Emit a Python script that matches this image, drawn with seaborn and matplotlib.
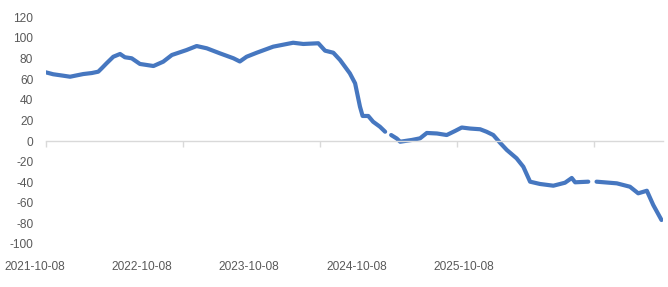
import pandas as pd
import numpy as np
import matplotlib
matplotlib.use("Agg")
import matplotlib.pyplot as plt
import matplotlib.transforms as mtransforms
from matplotlib import font_manager
import seaborn as sns

# ---------------- data ----------------
dates = [
    "2021-10-08", "2021-10-28", "2021-11-20", "2021-12-12", "2021-12-28",
    "2022-01-16", "2022-02-08", "2022-02-25", "2022-03-07", "2022-03-19",
    "2022-04-06", "2022-04-24", "2022-05-07", "2022-05-25", "2022-06-16",
    "2022-07-22", "2022-08-17", "2022-09-09", "2022-10-18", "2022-11-14",
    "2022-12-11", "2023-01-15", "2023-02-20", "2023-03-09", "2023-03-27",
    "2023-04-23", "2023-06-06", "2023-07-29", "2023-08-25", "2023-10-04",
    "2023-10-22", "2023-11-13", "2023-12-01", "2023-12-27", "2024-01-10",
    "2024-01-23", "2024-01-30", "2024-02-14", "2024-02-27", "2024-03-16",
    "2024-03-30", "2024-04-07", "2024-04-15", "2024-04-30", "2024-05-09",
    "2024-06-09", "2024-07-01", "2024-07-19", "2024-08-15", "2024-09-10",
    "2024-10-02", "2024-10-20", "2024-11-11", "2024-12-08", "2024-12-25",
    "2025-01-12", "2025-01-30", "2025-02-17", "2025-03-15", "2025-04-02",
    "2025-04-20", "2025-05-16", "2025-06-21", "2025-07-22", "2025-08-09",
    "2025-08-18", "2025-09-22", "2025-10-02", "2025-10-14", "2025-12-07",
    "2026-01-11", "2026-02-02", "2026-02-25", "2026-03-14", "2026-04-05",
]
values = [
    66.7, 64.8, 63.6, 62.4, 63.6,
    65.0, 66.0, 67.3, 70.9, 75.4,
    81.8, 84.5, 81.3, 80.3, 74.8,
    72.8, 77.0, 83.5, 88.3, 92.2,
    90.0, 85.1, 80.3, 77.2, 81.8,
    85.7, 91.6, 95.4, 94.2, 94.9,
    87.7, 85.7, 78.6, 65.7, 56.0,
    33.3, 24.3, 24.3, 18.7, 13.9,
    9.0, np.nan, 5.8, 2.4, -0.7,
    1.0, 2.6, 7.8, 7.3, 5.8,
    9.7, 13.1, 12.1, 11.4, 9.0,
    5.8, -1.7, -8.7, -16.8, -25.0,
    -39.5, -41.7, -43.4, -40.5, -35.9,
    -40.1, -39.5, np.nan, -39.5, -41.1,
    -44.4, -50.8, -48.3, -62.1, -76.7,
]
y_ticks = [120, 100, 80, 60, 40, 20, 0, -20, -40, -60, -80, -100]
x_tick_dates = ["2021-10-08", "2022-10-08", "2023-10-08", "2024-10-08", "2025-10-08"]
x_tick_labels = ["2021-10-08", "2022-10-08", "2023-10-08", "2024-10-08", "2025-10-08"]

# ---------------- layout ----------------
label_offsets_days = [-28, 256, 541, 829, 1114]   # where the reference places its date labels
x_end = "2026-04-09"
LINE_COLOR = "#4677C0"
TEXT_COLOR = "#595959"
AXIS_COLOR = "#d9d9d9"

df = pd.DataFrame({"date": pd.to_datetime(dates), "value": values})
df["seg"] = df["value"].isna().cumsum()
df = df.dropna()

sns.set_theme(style="white")
avail = {f.name for f in font_manager.fontManager.ttflist}
if "Liberation Sans Narrow" in avail:
    fam, fs = ["Liberation Sans Narrow", "DejaVu Sans"], 10.5
else:
    fam, fs = ["Liberation Sans", "DejaVu Sans"], 8.6
plt.rcParams["font.family"] = fam

fig = plt.figure(figsize=(6.68, 2.87), dpi=100)
ax = fig.add_axes([45.7 / 668, 1 - 244 / 287, (663 - 45.7) / 668, (244 - 17.4) / 287])

sns.lineplot(data=df, x="date", y="value", units="seg", estimator=None,
             color=LINE_COLOR, linewidth=3.0, ax=ax, legend=False,
             solid_capstyle="round", solid_joinstyle="round")

start = pd.Timestamp(x_tick_dates[0])
ax.set_xlim(start, pd.Timestamp(x_end))
ax.set_ylim(-100, 120)
ax.set_yticks(y_ticks)
ax.set_yticklabels([str(v) for v in y_ticks])
ax.tick_params(axis="y", left=False, length=0, pad=9, labelsize=fs, labelcolor=TEXT_COLOR)
ax.set_xlabel("")
ax.set_ylabel("")
for s in ["top", "right", "left"]:
    ax.spines[s].set_visible(False)
ax.spines["bottom"].set_position(("data", 0))
ax.spines["bottom"].set_color(AXIS_COLOR)
ax.spines["bottom"].set_linewidth(1.0)
ax.set_xticks(pd.to_datetime(x_tick_dates))
ax.tick_params(axis="x", bottom=True, direction="out", length=4, width=1.0,
               color=AXIS_COLOR, labelbottom=False)
ax.grid(False)

# date labels along the bottom, positioned as in the reference
trans = mtransforms.blended_transform_factory(ax.transData, ax.transAxes)
for d, lab in zip(label_offsets_days, x_tick_labels):
    ax.text(start + pd.Timedelta(days=d), -(267 - 244) / (244 - 17.4), lab,
            transform=trans, ha="center", va="center", fontsize=fs,
            color=TEXT_COLOR, clip_on=False)

fig.savefig("out.png", dpi=100)
